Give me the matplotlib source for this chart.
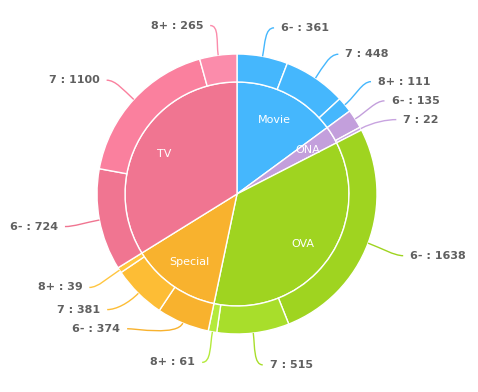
import numpy as np
import matplotlib
matplotlib.use("Agg")
import matplotlib.pyplot as plt
from matplotlib.path import Path
from matplotlib.patches import PathPatch

# ---------------- data ----------------
categories = ["Movie", "ONA", "OVA", "Special", "TV"]
ratings = ["6-", "7", "8+"]
movie = [361, 448, 111]
ona = [135, 22, 0]
ova = [1638, 515, 61]
special = [374, 381, 39]
tv = [724, 1100, 265]
counts = [movie, ona, ova, special, tv]

# ---------------- style ----------------
inner_colors = ["#45b7fd", "#c39fdc", "#9fd420", "#f8b22e", "#f07591"]
outer_colors = [
    ["#45b7fd", "#45b7fd", "#45b7fd"],
    ["#c39fdc", "#c8a4e0", "#ccaae4"],
    ["#9fd420", "#a8de2b", "#b4ea3b"],
    ["#f8b22e", "#fdbd35", "#ffc640"],
    ["#f07591", "#fa809e", "#fb8cab"],
]
label_color = "#606060"

W, H = 478, 392
CX, CY_S = 237, 194          # centre in screen pixels (y down)
R_IN, R_OUT = 112, 140
R_LAB = 170

fig = plt.figure(figsize=(W / 100, H / 100), dpi=100)
ax = fig.add_axes([0, 0, 1, 1])

def to_plot(x, y_s):
    return x, H - y_s

center = to_plot(CX, CY_S)

inner_vals = [sum(c) for c in counts]
outer_vals, outer_cols, outer_labels = [], [], []
for ci, c in enumerate(counts):
    for ri, v in enumerate(c):
        if v > 0:
            outer_vals.append(v)
            outer_cols.append(outer_colors[ci][ri])
            outer_labels.append(f"{ratings[ri]} : {v}")

ax.pie(inner_vals, radius=R_IN, center=center, startangle=90, counterclock=False,
       colors=inner_colors, wedgeprops=dict(edgecolor="white", linewidth=1.0))
ax.pie(outer_vals, radius=R_OUT, center=center, startangle=90, counterclock=False,
       colors=outer_cols, wedgeprops=dict(width=R_OUT - R_IN, edgecolor="white", linewidth=1.0))

# inner labels
total = sum(inner_vals)
cum = 0
for name, v in zip(categories, inner_vals):
    mid = np.radians((cum + v / 2) / total * 360)
    cum += v
    x = CX + 83 * np.sin(mid)
    y = CY_S - 83 * np.cos(mid)
    ax.text(*to_plot(x, y), name, color="white", fontsize=8, ha="center", va="center")

# outer labels with connectors (layout nudges: dx, dy in px)
nudges = [(0, 1), (0, 1), (-3, -4), (-2, -2), (3, 5),
          (1, 2), (0, 2), (1, 1),
          (-38, -22), (-4, -5), (1, 1),
          (1, 1), (1, 1), (2, 0)]
otot = sum(outer_vals)
cum = 0
for i, (v, col, lab) in enumerate(zip(outer_vals, outer_cols, outer_labels)):
    th = np.radians((cum + v / 2) / otot * 360)
    cum += v
    s, c = np.sin(th), np.cos(th)
    side = 1 if s >= 0 else -1
    dx, dy = nudges[i]
    ly = CY_S - R_LAB * c + dy
    lx = CX + R_LAB * s + side * 13 + dx
    # connector
    p0 = (CX + R_OUT * s, CY_S - R_OUT * c)
    p1 = (CX + (R_OUT + 14) * s, CY_S - (R_OUT + 14) * c)
    p3 = (lx - side * 7, ly)
    p2 = (p3[0] - side * 9, ly)
    verts = [to_plot(*p) for p in (p0, p1, p2, p3)]
    path = Path(verts, [Path.MOVETO, Path.CURVE4, Path.CURVE4, Path.CURVE4])
    ax.add_patch(PathPatch(path, facecolor="none", edgecolor=col, lw=1.0))
    ax.text(*to_plot(lx, ly), lab, color=label_color, fontsize=8, fontweight="bold",
            ha="left" if side > 0 else "right", va="center")

ax.set_xlim(0, W)
ax.set_ylim(0, H)
ax.set_aspect("equal")
ax.axis("off")
fig.savefig("out.png", dpi=100)
